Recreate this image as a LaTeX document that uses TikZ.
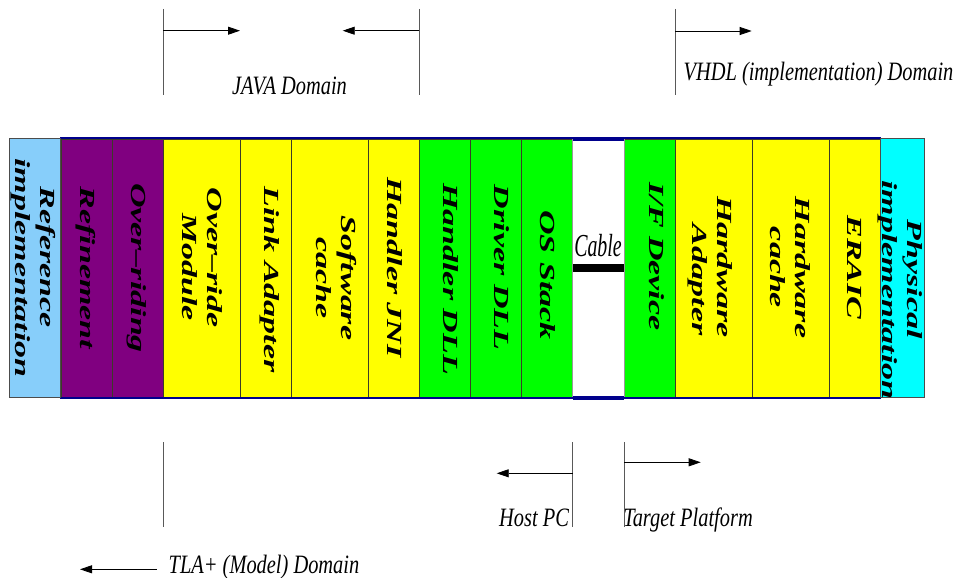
\documentclass[tikz,border=0pt]{standalone}
\usepackage{fontspec}
\setmainfont{Liberation Serif}
\usetikzlibrary{arrows.meta}
\definecolor{refblue}{RGB}{135,206,250}
\definecolor{purp}{RGB}{128,0,128}
\definecolor{navyc}{RGB}{0,0,140}
\definecolor{sepc}{RGB}{60,60,40}
\definecolor{yel}{RGB}{255,255,0}
\definecolor{grn}{RGB}{0,255,0}
\definecolor{cyn}{RGB}{0,255,255}
\newcommand\vlab[1]{\scalebox{1.58}[1]{\begin{tabular}{@{}c@{}}#1\end{tabular}}}
\newcommand\hlab[1]{\scalebox{0.77}[1]{#1}}
\begin{document}
\begin{tikzpicture}[x=1pt,y=-1pt,
  vl/.style={rotate=-90,inner sep=0pt,font=\fontsize{21.5}{25}\selectfont\bfseries\itshape},
  hl/.style={inner sep=0pt,anchor=base,font=\fontsize{26.5}{30}\selectfont\itshape},
  colbox/.style={draw=sepc,line width=0.7pt},
  endbox/.style={draw=black!70,line width=0.8pt},
  vline/.style={draw=black!65,line width=0.8pt},
  arr/.style={-{Triangle[length=12pt,width=8pt]},line width=0.8pt}]
\useasboundingbox (0,0) rectangle (961,578);

% columns
\foreach \a/\b/\c in {61/112/purp,112/163/purp,163/240/yel,240/291/yel,291/368/yel,368/419/yel,419/470/grn,470/521/grn,521/572.5/grn,624/675/grn,675/752/yel,752/829/yel,829/880/yel}
  \draw[colbox,fill=\c] (\a,139) rectangle (\b,397);
% cable column
\draw[fill=white,draw=black!40,line width=0.7pt] (572.5,139) rectangle (624,397);
\fill[navyc] (572.5,136.7) rectangle (624,141);
\fill[navyc] (572.5,396) rectangle (624,400);
\fill[black] (572.5,264.3) rectangle (624,271.7);
% outer strip lines
\draw[navyc,line width=2.2pt] (60,137.9) -- (880.5,137.9);
\draw[navyc,line width=2.2pt] (60,398.2) -- (880.5,398.2);
% end boxes
\draw[endbox,fill=refblue] (9.5,138.5) rectangle (60.5,397.5);
\draw[endbox,fill=cyn] (880,138.5) rectangle (924.5,397.5);

% rotated labels
\node[vl] (ref) at (33,268) {\vlab{Reference\hspace*{13.75pt}\\implementation}};
\node[vl] (refin) at (85.5,268) {\vlab{Refinement}};
\node[vl] (ovr) at (136,268) {\vlab{Over--riding}};
\node[vl] (ovm) at (200,267) {\vlab{Over--ride\hspace*{12pt}\\Module}};
\node[vl] (link) at (269,279.5) {\vlab{Link Adapter}};
\node[vl] (soft) at (334,278) {\vlab{Software\\cache}};
\node[vl] (hjni) at (392,267.5) {\vlab{Handler JNI}};
\node[vl] (hdll) at (448,279) {\vlab{Handler DLL}};
\node[vl] (ddll) at (499.5,267.5) {\vlab{Driver DLL}};
\node[vl] (os) at (545,275) {\vlab{OS Stack}};
\node[vl] (ifd) at (654,256.5) {\vlab{I/F Device}};
\node[vl] (hwa) at (709.5,267) {\vlab{Hardware\\\hspace*{16pt}Adapter}};
\node[vl] (hwc) at (788,267.5) {\vlab{Hardware\\cache}};
\node[vl] (eraic) at (852,267.5) {\vlab{ERAIC}};
\node[vl] (phys) at (900,290) {\vlab{Physical\hspace*{13.75pt}\\implementation}};

\node[inner sep=0pt,anchor=base,font=\fontsize{32}{36}\selectfont\itshape] (cable) at (598,256.7) {\scalebox{0.62}[1]{Cable}};

% domain labels
\node[hl] (java) at (289.5,95) {\hlab{JAVA Domain}};
\node[hl] (vhdl) at (818.5,80.5) {\hlab{VHDL (implementation) Domain}};
\node[hl] (tla) at (264,573.5) {\hlab{TLA+ (Model) Domain}};
\node[hl] (host) at (534,526.7) {\hlab{Host PC}};
\node[hl] (targ) at (688,526.7) {\hlab{Target Platform}};

% coordinates
\coordinate (jlt) at (163.3,9);   \coordinate (jlb) at (163.3,95);
\coordinate (jrt) at (419.3,9);   \coordinate (jrb) at (419.3,95);
\coordinate (ja1) at (163.3,30.7); \coordinate (ja1e) at (240,30.7);
\coordinate (ja2) at (419.3,30.7); \coordinate (ja2e) at (342.7,30.7);
\coordinate (vt) at (675,9);      \coordinate (vb) at (675,95);
\coordinate (va) at (675,31);     \coordinate (vae) at (751.7,31);
\coordinate (tt) at (163.3,442);  \coordinate (tb) at (163.3,527);
\coordinate (ta) at (156.7,569.3); \coordinate (tae) at (80,569.3);
\coordinate (ht) at (572.7,442);  \coordinate (hb) at (572.7,527);
\coordinate (ha) at (572.7,473.3); \coordinate (hae) at (496.7,473.3);
\coordinate (pt) at (624,442);    \coordinate (pb) at (624,527);
\coordinate (pa) at (624,462.3);  \coordinate (pae) at (700.7,462.3);

\draw[vline] (jlt) -- (jlb);
\draw[vline] (jrt) -- (jrb);
\draw[vline] (vt) -- (vb);
\draw[vline] (tt) -- (tb);
\draw[vline] (ht) -- (hb);
\draw[vline] (pt) -- (pb);
\draw[arr] (ja1) -- (ja1e);
\draw[arr] (ja2) -- (ja2e);
\draw[arr] (va) -- (vae);
\draw[arr] (ta) -- (tae);
\draw[arr] (ha) -- (hae);
\draw[arr] (pa) -- (pae);
\end{tikzpicture}
\end{document}
